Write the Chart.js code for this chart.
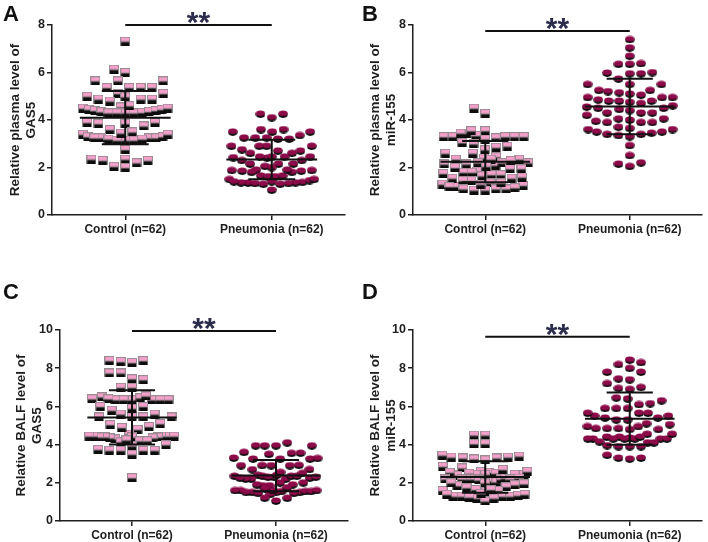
<!DOCTYPE html>
<html>
<head>
<meta charset="utf-8">
<script src="https://cdn.jsdelivr.net/npm/chart.js@4.4.0/dist/chart.umd.min.js"></script>
<style>
body{margin:0;background:#fff;}
#wrap{position:relative;width:708px;height:542px;overflow:hidden;}
canvas{position:absolute;}
.lt{position:absolute;font:bold 22px "Liberation Sans",Arial,sans-serif;color:#111;}
</style>
</head>
<body>
<div id="wrap">
<canvas id="cA" width="354" height="271" style="left:0;top:0"></canvas>
<canvas id="cB" width="354" height="271" style="left:354px;top:0"></canvas>
<canvas id="cC" width="354" height="271" style="left:0;top:271px"></canvas>
<canvas id="cD" width="354" height="271" style="left:354px;top:271px"></canvas>
<div class="lt" style="left:3px;top:1px">A</div>
<div class="lt" style="left:362px;top:1px">B</div>
<div class="lt" style="left:3px;top:279px">C</div>
<div class="lt" style="left:362px;top:279px">D</div>
</div>
<script>
// groups on the x axis
const groups = ['Control (n=62)', 'Pneumonia (n=62)'];

// A - plasma GAS5
const plasmaGas5Control = [7.32, 6.14, 6.0, 5.65, 5.65, 5.65, 5.37, 5.37, 5.37, 5.37, 5.12, 5.12, 5.0, 4.98, 4.88, 4.88, 4.88, 4.8,
  4.55, 4.5, 4.45, 4.4, 4.35, 4.3, 4.3, 4.3, 4.3, 4.32, 4.36, 4.4, 4.45, 4.5,
  3.9, 3.85, 3.75, 3.6, 3.85, 3.9, 3.5,
  3.4, 3.3, 3.15, 3.25, 3.15, 3.25, 3.2, 3.25, 3.15, 3.25, 3.2, 3.3, 3.4, 3.45,
  2.76, 2.35, 2.3, 2.2, 2.0, 2.05, 2.3, 2.35, 4.6];
const plasmaGas5Pneumonia = [4.25, 4.1, 4.25,
  3.6, 3.5, 3.5, 3.25, 3.25, 3.2, 3.2, 3.25, 3.35, 3.5, 3.6,
  2.9, 2.9, 2.9, 2.9, 2.7, 2.6, 2.6, 2.7, 2.75,
  2.45, 2.42, 2.4, 2.3, 2.15, 2.05, 2.15, 2.15, 2.3, 2.45, 2.45, 2.45,
  1.9, 1.88, 1.85, 1.8, 1.65, 1.62, 1.62, 1.65, 1.8, 1.85, 1.88, 1.9,
  1.5, 1.4, 1.38, 1.36, 1.35, 1.33, 1.3, 1.05, 1.3, 1.33, 1.36, 1.4, 1.45, 1.5, 2.0];

// B - plasma miR-155
const plasmaMirControl = [4.5, 4.28,
  3.55, 3.45, 3.3, 3.3, 3.3, 3.25, 3.2, 3.3, 3.3, 3.35, 3.45, 3.55,
  3.0, 2.85, 2.6, 2.6, 2.75, 2.9, 3.05,
  2.45, 2.4, 2.35, 2.2, 2.15, 2.1, 2.15, 2.2, 2.2, 2.35, 2.35,
  1.95, 1.85, 1.8, 1.7, 1.65, 1.7, 1.75, 1.8, 1.95,
  1.55, 1.45, 1.35, 1.3, 1.25, 1.1, 1.05, 1.05, 1.1, 1.2, 1.3, 1.35, 1.45, 1.55,
  2.05, 2.0, 1.6, 1.2, 1.15, 2.3, 1.1];
const plasmaMirPneumonia = [7.39, 7.04, 6.69, 6.35, 6.38, 6.35, 6.0, 5.95, 5.95, 5.98, 5.73, 5.5, 5.5, 5.5,
  5.2, 5.15, 5.1, 4.95, 4.85, 4.8, 4.95, 4.95, 5.05, 5.25, 5.25,
  4.6, 4.8, 4.75, 4.8, 4.7,
  4.4, 4.3, 4.5, 4.45, 4.5, 4.55, 4.3, 4.3,
  4.0, 3.9, 3.9, 4.05, 4.05, 4.2, 3.9, 3.95,
  3.5, 3.45, 3.4, 3.7, 3.3, 3.6, 3.6, 3.65, 3.35, 3.4, 3.5,
  2.93, 2.51, 2.2, 2.05, 2.15];

// C - BALF GAS5
const balfGas5Control = [8.4, 8.35, 8.3, 8.4, 7.75, 7.75, 7.4, 7.0, 7.0, 7.45,
  6.5, 6.4, 6.35, 6.35, 6.35, 6.35, 6.35, 6.35, 6.4, 6.45, 6.55,
  6.0, 5.8, 5.6, 5.45, 5.45, 5.45, 5.45, 5.6, 5.9, 6.0,
  5.1, 4.95, 4.8, 4.55, 4.9, 5.05,
  4.45, 4.45, 4.4, 4.4, 4.35, 4.3, 4.2, 4.35, 4.4, 4.4, 4.45, 4.45, 4.45,
  4.2, 4.15, 3.94, 3.7, 3.7, 3.5, 3.7, 3.7, 4.0, 3.75, 2.27, 4.25];
const balfGas5Pneumonia = [4.1, 3.94, 3.94, 3.94, 3.94,
  3.6, 3.55, 3.56, 3.5,
  3.25, 3.25, 3.3, 3.25, 3.28,
  2.91, 2.9, 2.92, 2.9, 2.9, 2.69, 2.7,
  2.4, 2.3, 2.25, 2.2, 2.35, 2.2, 2.2, 2.35, 2.3, 2.35, 2.35, 2.4, 2.3, 2.25,
  2.0, 1.9, 1.85, 1.85, 1.9, 2.0,
  1.6, 1.55, 1.5, 1.5, 1.45, 1.4, 1.5, 1.55, 1.55, 1.6, 1.6, 1.6, 1.5, 1.45,
  1.2, 1.05, 1.2, 2.5, 2.55, 1.7, 1.75];

// D - BALF miR-155
const balfMirControl = [4.5, 4.5, 4.05, 4.05,
  3.4, 3.35, 3.3, 3.2, 3.25, 3.3, 3.35, 3.45,
  2.78, 2.86,
  2.6, 2.55, 2.45, 2.45, 2.45, 2.4, 2.45, 2.45, 2.5, 2.5, 2.55, 2.6,
  2.2, 2.15, 2.1, 2.0, 2.05, 2.2, 2.2, 2.2, 2.2, 2.25, 2.2, 2.25,
  1.85, 1.75, 1.9, 1.8,
  1.65, 1.6, 1.55, 1.6, 1.65,
  1.3, 1.3, 1.2, 1.05, 1.2, 1.3, 1.3, 1.25,
  1.35, 1.4, 1.95, 2.0, 1.4, 1.45, 2.7];
const balfMirPneumonia = [8.43, 8.3, 8.2, 8.0, 7.8, 7.8, 7.45, 7.2, 7.4, 6.95, 6.9, 7.0,
  6.45, 6.1, 6.3, 6.15, 6.4,
  5.9, 5.65, 5.5, 5.4, 5.3, 5.9, 5.3, 5.4, 5.5, 5.65, 5.65, 5.9,
  5.1, 4.95, 4.85, 4.8, 4.85, 4.8, 4.85, 4.95, 5.05,
  4.4, 4.35, 4.3, 4.3, 4.3, 4.55, 4.55, 4.4, 4.3, 4.3, 4.3, 4.3, 4.4,
  3.9, 4.1, 3.95, 4.1, 4.15,
  3.9, 3.9,
  3.3, 3.3, 3.25, 3.45];

const titlesA = ['Relative plasma level of', 'GAS5'];
const titlesB = ['Relative plasma level of', 'miR-155'];
const titlesC = ['Relative BALF level of', 'GAS5'];
const titlesD = ['Relative BALF level of', 'miR-155'];

const FONT = '"Liberation Sans", Arial, sans-serif';
const INK = '#1e1e1e';

// markers: pink square with black shadow, crimson disc with black shadow
function squareMark() {
  let c = document.createElement('canvas');
  c.width = 10; c.height = 9;
  let x = c.getContext('2d');
  x.fillStyle = '#0d0d0d';
  x.fillRect(0.5, 3, 9, 6);
  x.fillStyle = '#f4a0ca';
  x.fillRect(0.5, 0.5, 9, 4.5);
  x.strokeStyle = '#9a8a92';
  x.lineWidth = 1;
  x.strokeRect(0.5, 0.5, 9, 4.5);
  return c;
}
function discMark() {
  let c = document.createElement('canvas');
  c.width = 10; c.height = 8;
  let x = c.getContext('2d');
  x.fillStyle = '#0d0d0d';
  x.beginPath(); x.ellipse(5, 4.6, 4.6, 3.3, 0, 0, Math.PI * 2); x.fill();
  x.fillStyle = '#8c0b48';
  x.beginPath(); x.ellipse(5, 3.3, 4.6, 2.7, 0, 0, Math.PI * 2); x.fill();
  return c;
}
const sqImg = squareMark();
const dcImg = discMark();

function mean(a) { return a.reduce((s, v) => s + v, 0) / a.length; }
function sd(a) {
  let m = mean(a);
  return Math.sqrt(a.reduce((s, v) => s + (v - m) * (v - m), 0) / (a.length - 1));
}

// beeswarm: lowest values go in first, crowded rows get squeezed, column kept within +-43px
const MAXW = 43;
function spread(vals, chart, center) {
  let ys = chart.scales.y, xs = chart.scales.x;
  let pxPerX = xs.getPixelForValue(1) - xs.getPixelForValue(0);
  let pts = vals.map((v, i) => ({v: v, i: i, py: ys.getPixelForValue(v)}));
  pts.forEach(p => {
    let n = pts.filter(q => Math.abs(q.py - p.py) < 4).length;
    p.w = n > 1 ? Math.min(11.3, 84 / (n - 1)) : 11.3;
  });
  let order = pts.slice().sort((a, b) => a.v - b.v);
  let placed = [];
  order.forEach(p => {
    let near = placed.filter(q => Math.abs(q.py - p.py) < 8);
    let pick = null;
    for (let f of [1, 0.8, 0.65, 0.5, 0.35]) {
      let cands = [0];
      near.forEach(q => { let w = Math.min(p.w, q.w) * f; cands.push(q.dx - w, q.dx + w); });
      cands.sort((a, b) => Math.abs(a) - Math.abs(b) || a - b);
      pick = cands.find(c => Math.abs(c) <= MAXW &&
        near.every(q => Math.abs(q.dx - c) >= Math.min(p.w, q.w) * f - 0.01));
      if (pick !== undefined) break;
    }
    p.dx = pick === undefined ? 0 : pick;
    placed.push(p);
  });
  let out = [];
  pts.forEach(p => { out[p.i] = {x: center + p.dx / pxPerX, y: p.v}; });
  return out;
}

const errBars = {
  id: 'errBars',
  afterDatasetsDraw(chart) {
    let ctx = chart.ctx, xs = chart.scales.x, ys = chart.scales.y;
    let pxPerX = xs.getPixelForValue(1) - xs.getPixelForValue(0);
    ctx.save();
    ctx.strokeStyle = '#111';
    ctx.lineWidth = 2;
    chart.data.datasets.forEach(ds => {
      let raw = ds.raw, m = mean(raw), s = sd(raw);
      let cx = xs.getPixelForValue(ds.center);
      let ym = ys.getPixelForValue(m), yt = ys.getPixelForValue(m + s), yb = ys.getPixelForValue(m - s);
      let wm = 0.62 * pxPerX, wc = 0.32 * pxPerX;
      ctx.beginPath();
      ctx.moveTo(cx - wm, ym); ctx.lineTo(cx + wm, ym);
      ctx.moveTo(cx - wc, yt); ctx.lineTo(cx + wc, yt);
      ctx.moveTo(cx - wc, yb); ctx.lineTo(cx + wc, yb);
      ctx.moveTo(cx, yt); ctx.lineTo(cx, yb);
      ctx.stroke();
    });
    // significance bar
    let sig = chart.options.plugins.errBars.sig;
    let y = ys.getPixelForValue(sig);
    ctx.beginPath();
    ctx.moveTo(xs.getPixelForValue(1), y);
    ctx.lineTo(xs.getPixelForValue(3), y);
    ctx.stroke();
    ctx.fillStyle = '#2c2c4c';
    ctx.font = 'bold 30px ' + FONT;
    ctx.textAlign = 'center';
    ctx.textBaseline = 'alphabetic';
    ctx.fillText('**', xs.getPixelForValue(2), y + 7);
    ctx.restore();
  }
};

function panel(id, ctrl, pneu, titles, yMax, sig, p) {
  let chart = new Chart(document.getElementById(id), {
    type: 'scatter',
    data: {
      datasets: [
        {raw: ctrl, center: 1, data: ctrl.map(v => ({x: 1, y: v})), pointStyle: sqImg, pointRadius: 5},
        {raw: pneu, center: 3, data: pneu.map(v => ({x: 3, y: v})), pointStyle: dcImg, pointRadius: 5}
      ]
    },
    options: {
      responsive: false,
      devicePixelRatio: 1,
      animation: false,
      events: [],
      layout: {padding: {left: 0, right: p.right, top: p.top, bottom: 0}},
      plugins: {legend: {display: false}, tooltip: {enabled: false}, errBars: {sig: sig}},
      scales: {
        x: {
          type: 'linear', min: 0, max: 4,
          afterBuildTicks: s => { s.ticks = [{value: 1}, {value: 3}]; },
          afterFit: s => { s.height = p.xh; },
          ticks: {callback: v => groups[(v - 1) / 2], color: INK, font: {family: FONT, size: 12, weight: 'bold'}, padding: 2, maxRotation: 0},
          grid: {display: true, drawOnChartArea: false, drawTicks: true, tickLength: 5, color: INK, lineWidth: 1.5},
          border: {display: true, color: INK, width: 1.5}
        },
        y: {
          min: 0, max: yMax,
          afterFit: s => { s.width = p.yw; },
          ticks: {stepSize: 2, color: INK, font: {family: FONT, size: 12.5, weight: 'bold'}, padding: 2},
          grid: {display: true, drawOnChartArea: false, drawTicks: true, tickLength: 5, color: INK, lineWidth: 1.5},
          border: {display: true, color: INK, width: 1.5},
          title: {display: true, text: titles, color: INK, font: {family: FONT, size: 13.5, weight: 'bold', lineHeight: 1.15}, padding: {top: p.tp, bottom: 0}}
        }
      }
    },
    plugins: [errBars]
  });
  chart.data.datasets[0].data = spread(ctrl, chart, 1);
  chart.data.datasets[1].data = spread(pneu, chart, 3);
  chart.update('none');
  return chart;
}

panel('cA', plasmaGas5Control, plasmaGas5Pneumonia, titlesA, 8, 8, {right: 9, top: 25, xh: 56, yw: 52, tp: 8});
panel('cB', plasmaMirControl, plasmaMirPneumonia, titlesB, 8, 7.75, {right: 3, top: 25, xh: 56, yw: 59, tp: 14});
panel('cC', balfGas5Control, balfGas5Pneumonia, titlesC, 10, 9.95, {right: 2, top: 59, xh: 21, yw: 60, tp: 14});
panel('cD', balfMirControl, balfMirPneumonia, titlesD, 10, 9.65, {right: 3, top: 59, xh: 21, yw: 59, tp: 14});
</script>
</body>
</html>
